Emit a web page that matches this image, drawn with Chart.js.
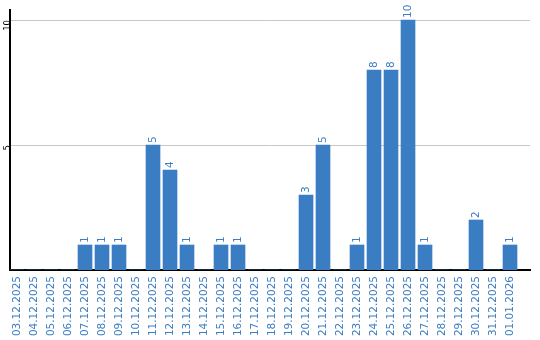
<!DOCTYPE html>
<html>
<head>
<meta charset="utf-8">
<script src="https://cdn.jsdelivr.net/npm/chart.js@4/dist/chart.umd.min.js"></script>
<style>
    html, body { margin: 0; padding: 0; background: #ffffff; }
    #wrap { width: 540px; height: 340px; }
</style>
</head>
<body>
<div id="wrap"><canvas id="chartDays"></canvas></div>
<script>
// Données
const dates = [
    '03.12.2025', '04.12.2025', '05.12.2025', '06.12.2025', '07.12.2025',
    '08.12.2025', '09.12.2025', '10.12.2025', '11.12.2025', '12.12.2025',
    '13.12.2025', '14.12.2025', '15.12.2025', '16.12.2025', '17.12.2025',
    '18.12.2025', '19.12.2025', '20.12.2025', '21.12.2025', '22.12.2025',
    '23.12.2025', '24.12.2025', '25.12.2025', '26.12.2025', '27.12.2025',
    '28.12.2025', '29.12.2025', '30.12.2025', '31.12.2025', '01.01.2026'
];
const counts = [0, 0, 0, 0, 1, 1, 1, 0, 5, 4, 1, 0, 1, 1, 0, 0, 0, 3, 5, 0, 1, 8, 8, 10, 1, 0, 0, 2, 0, 1];
const yTicks = [5, 10];

const blue = '#3b7dc3';
const font = 'DejaVu Sans';

// étiquettes de valeur au-dessus des barres, tournées
const valueLabels = {
    id: 'valueLabels',
    afterDatasetsDraw(chart) {
        const ctx = chart.ctx;
        const meta = chart.getDatasetMeta(0);
        ctx.save();
        ctx.fillStyle = blue;
        ctx.font = `10.5px "${font}"`;
        ctx.textAlign = 'left';
        ctx.textBaseline = 'middle';
        meta.data.forEach((bar, i) => {
            if (!counts[i]) return;
            ctx.save();
            ctx.translate(bar.x, bar.y - 2);
            ctx.rotate(-Math.PI / 2);
            ctx.fillText(String(counts[i]), 0, 0);
            ctx.restore();
        });
        ctx.restore();
    }
};

const ctx = document.getElementById('chartDays').getContext('2d');
new Chart(ctx, {
    type: 'bar',
    data: {
        datasets: [{
            data: dates.map((d, i) => ({ x: i, y: counts[i] })),
            backgroundColor: blue,
            borderWidth: 0,
            barThickness: 14
        }]
    },
    options: {
        responsive: true,
        maintainAspectRatio: false,
        animation: false,
        layout: { padding: { top: 10, right: 10, left: 0, bottom: 0 } },
        plugins: {
            legend: { display: false },
            tooltip: { enabled: false }
        },
        scales: {
            x: {
                type: 'linear',
                offset: false,
                min: -0.412,
                max: 30.176,
                afterBuildTicks: (s) => { s.ticks = dates.map((d, i) => ({ value: i })); },
                afterFit: (s) => {
                    s.height = 70;
                    s.paddingLeft = 0;
                    s.paddingRight = 0;
                },
                grid: { display: false, drawTicks: false, offset: false },
                border: { color: '#000000', width: 2 },
                ticks: {
                    autoSkip: false,
                    minRotation: 90,
                    maxRotation: 90,
                    padding: 6,
                    color: blue,
                    font: { family: font, size: 10.5 },
                    callback: (v) => dates[v] || ''
                }
            },
            y: {
                min: 0,
                max: 10.4,
                afterBuildTicks: (s) => { s.ticks = yTicks.map(v => ({ value: v })); },
                afterFit: (s) => {
                    s.width = 10;
                    s.paddingTop = 0;
                    s.paddingBottom = 0;
                },
                grid: { color: '#c8c8c8', lineWidth: 1, drawTicks: false },
                border: { color: '#000000', width: 2 },
                ticks: {
                    minRotation: 90,
                    maxRotation: 90,
                    padding: 2,
                    color: '#000000',
                    font: { family: font, size: 8.5 }
                }
            }
        }
    },
    plugins: [valueLabels]
});
</script>
</body>
</html>
